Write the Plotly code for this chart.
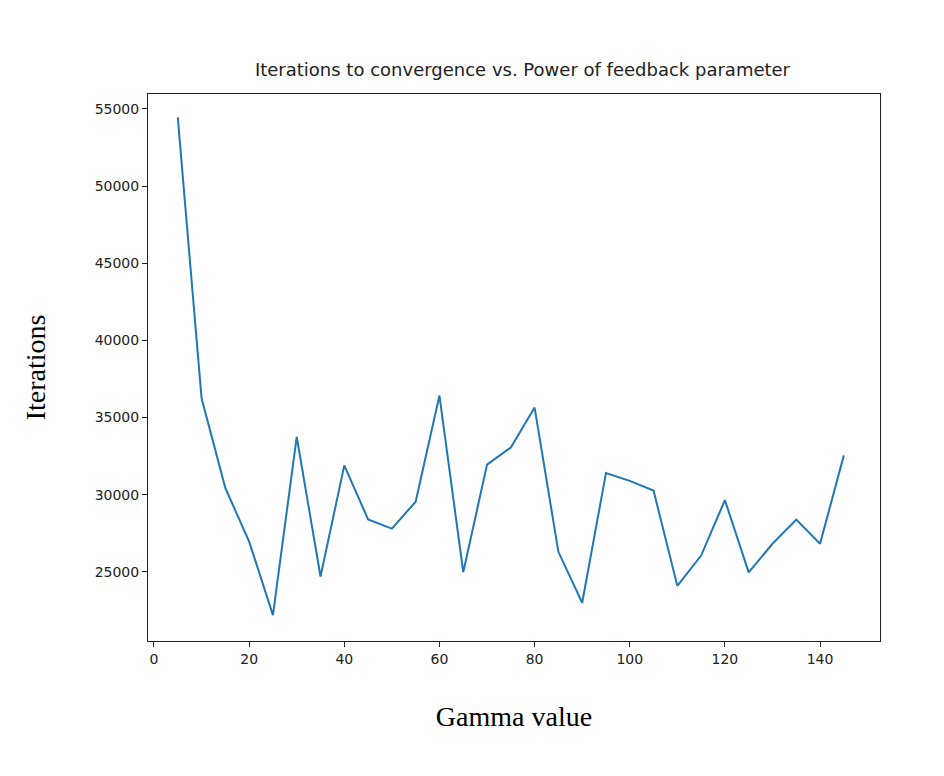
import plotly.graph_objects as go

gamma = list(range(5, 150, 5))
iterations = [54450, 36250, 30430, 26960, 22200, 33750, 24700, 31900, 28400, 27800,
              29550, 36430, 24980, 31950, 33060, 35650, 26300, 23000, 31400, 30900,
              30270, 24100, 26060, 29650, 24970, 26820, 28390, 26820, 32550]
x_ticks = [0, 20, 40, 60, 80, 100, 120, 140]
y_ticks = [25000, 30000, 35000, 40000, 45000, 50000, 55000]

fig = go.Figure(go.Scatter(x=gamma, y=iterations, mode='lines',
                           line=dict(color='#1f77b4', width=2)))

axis_style = dict(showgrid=False, zeroline=False, showline=True, mirror=True,
                  linecolor='#222', linewidth=1, ticks='outside', ticklen=5,
                  tickcolor='#222', tickfont=dict(family='DejaVu Sans', size=14, color='#222'))

fig.update_layout(
    width=944, height=776, paper_bgcolor='white', plot_bgcolor='white',
    margin=dict(l=140, r=72, t=86, b=143), showlegend=False,
    title=dict(text='Iterations to convergence vs. Power of feedback parameter',
               x=0.545, xanchor='center', y=0.92, yanchor='middle',
               font=dict(family='DejaVu Sans', size=18, color='#222')),
    xaxis=dict(range=[-1.26, 152.6], tickvals=x_ticks, tickformat='d',
               title=dict(text='Gamma value', standoff=40,
                          font=dict(family='Liberation Serif', size=28, color='black')),
               **axis_style),
    yaxis=dict(range=[20520, 55970], tickvals=y_ticks, tickformat='d',
               title=dict(text='Iterations', standoff=40,
                          font=dict(family='Liberation Serif', size=28, color='black')),
               **axis_style),
)

fig.write_html("out.html")
